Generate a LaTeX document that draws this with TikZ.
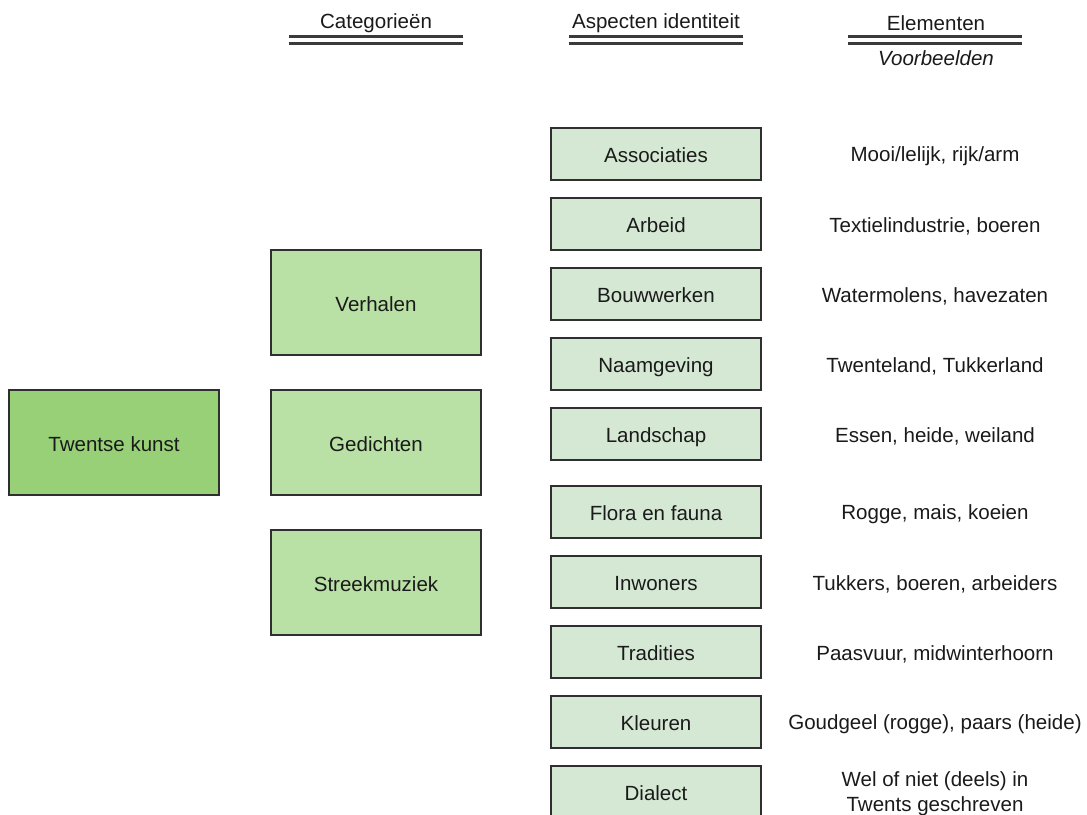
\documentclass[tikz,border=0pt]{standalone}
\usepackage{fontspec}
\setmainfont{Liberation Sans}
\definecolor{txt}{HTML}{1A1A1A}
\definecolor{strk}{HTML}{2F2F2F}
\definecolor{gmain}{HTML}{97D077}
\definecolor{gcat}{HTML}{B9E0A5}
\definecolor{gasp}{HTML}{D5E8D4}
\definecolor{hline}{HTML}{3A3A3A}
\tikzset{
  base/.style={draw=strk, line width=1.2pt, text=txt, font=\fontsize{15.4}{18.75}\selectfont, inner sep=0pt, text height=13pt, text depth=0pt},
  mainbox/.style={base, fill=gmain, minimum width=157.5pt, minimum height=78.75pt},
  catbox/.style={base, fill=gcat, minimum width=157.5pt, minimum height=78.75pt},
  aspbox/.style={base, fill=gasp, minimum width=157.5pt, minimum height=39pt},
  elem/.style={text=txt, font=\fontsize{15.4}{18.75}\selectfont, align=center, inner sep=0pt},
  hdr/.style={text=txt, font=\fontsize{15.4}{18.75}\selectfont, inner sep=0pt},
  dbl/.style={draw=hline, line width=1.8pt}
}
\begin{document}
\begin{tikzpicture}[x=0.75pt,y=-0.75pt]
\useasboundingbox (0,0) rectangle (1087,814);
% headers
\node[hdr] (hcat) at (376,23) {Categorieën};
\node[hdr] (hasp) at (656,23) {Aspecten identiteit};
\node[hdr] (hel) at (936,23) {Elementen};
\node[hdr, font=\fontsize{15.4}{18.75}\selectfont\itshape] (hvb) at (936,58) {Voorbeelden};
\draw[dbl] (289,36.5) -- (463,36.5);
\draw[dbl] (289,43.5) -- (463,43.5);
\draw[dbl] (569,36.5) -- (743,36.5);
\draw[dbl] (569,43.5) -- (743,43.5);
\draw[dbl] (848,36.5) -- (1022,36.5);
\draw[dbl] (848,43.5) -- (1022,43.5);
% main
\node[mainbox] (tk) at (114,442.5) {Twentse kunst};
% categories
\node[catbox] (verh) at (376,302.5) {Verhalen};
\node[catbox] (ged) at (376,442.5) {Gedichten};
\node[catbox] (strm) at (376,582.5) {Streekmuziek};
% aspects
\node[aspbox] (a1) at (656,154) {Associaties};
\node[aspbox] (a2) at (656,224) {Arbeid};
\node[aspbox] (a3) at (656,294) {Bouwwerken};
\node[aspbox] (a4) at (656,364) {Naamgeving};
\node[aspbox] (a5) at (656,434) {Landschap};
\node[aspbox] (a6) at (656,512) {Flora en fauna};
\node[aspbox] (a7) at (656,582) {Inwoners};
\node[aspbox] (a8) at (656,652) {Tradities};
\node[aspbox] (a9) at (656,722) {Kleuren};
\node[aspbox] (a10) at (656,792) {Dialect};
% elements
\node[elem] (e1) at (935,156) {Mooi/lelijk, rijk/arm};
\node[elem] (e2) at (935,226) {Textielindustrie, boeren};
\node[elem] (e3) at (935,296) {Watermolens, havezaten};
\node[elem] (e4) at (935,366) {Twenteland, Tukkerland};
\node[elem] (e5) at (935,436) {Essen, heide, weiland};
\node[elem] (e6) at (935,514) {Rogge, mais, koeien};
\node[elem] (e7) at (935,584) {Tukkers, boeren, arbeiders};
\node[elem] (e8) at (935,654) {Paasvuur, midwinterhoorn};
\node[elem] (e9) at (935,724) {Goudgeel (rogge), paars (heide)};
\node[elem] (e10) at (935,794) {Wel of niet (deels) in\\Twents geschreven};
\end{tikzpicture}
\end{document}
